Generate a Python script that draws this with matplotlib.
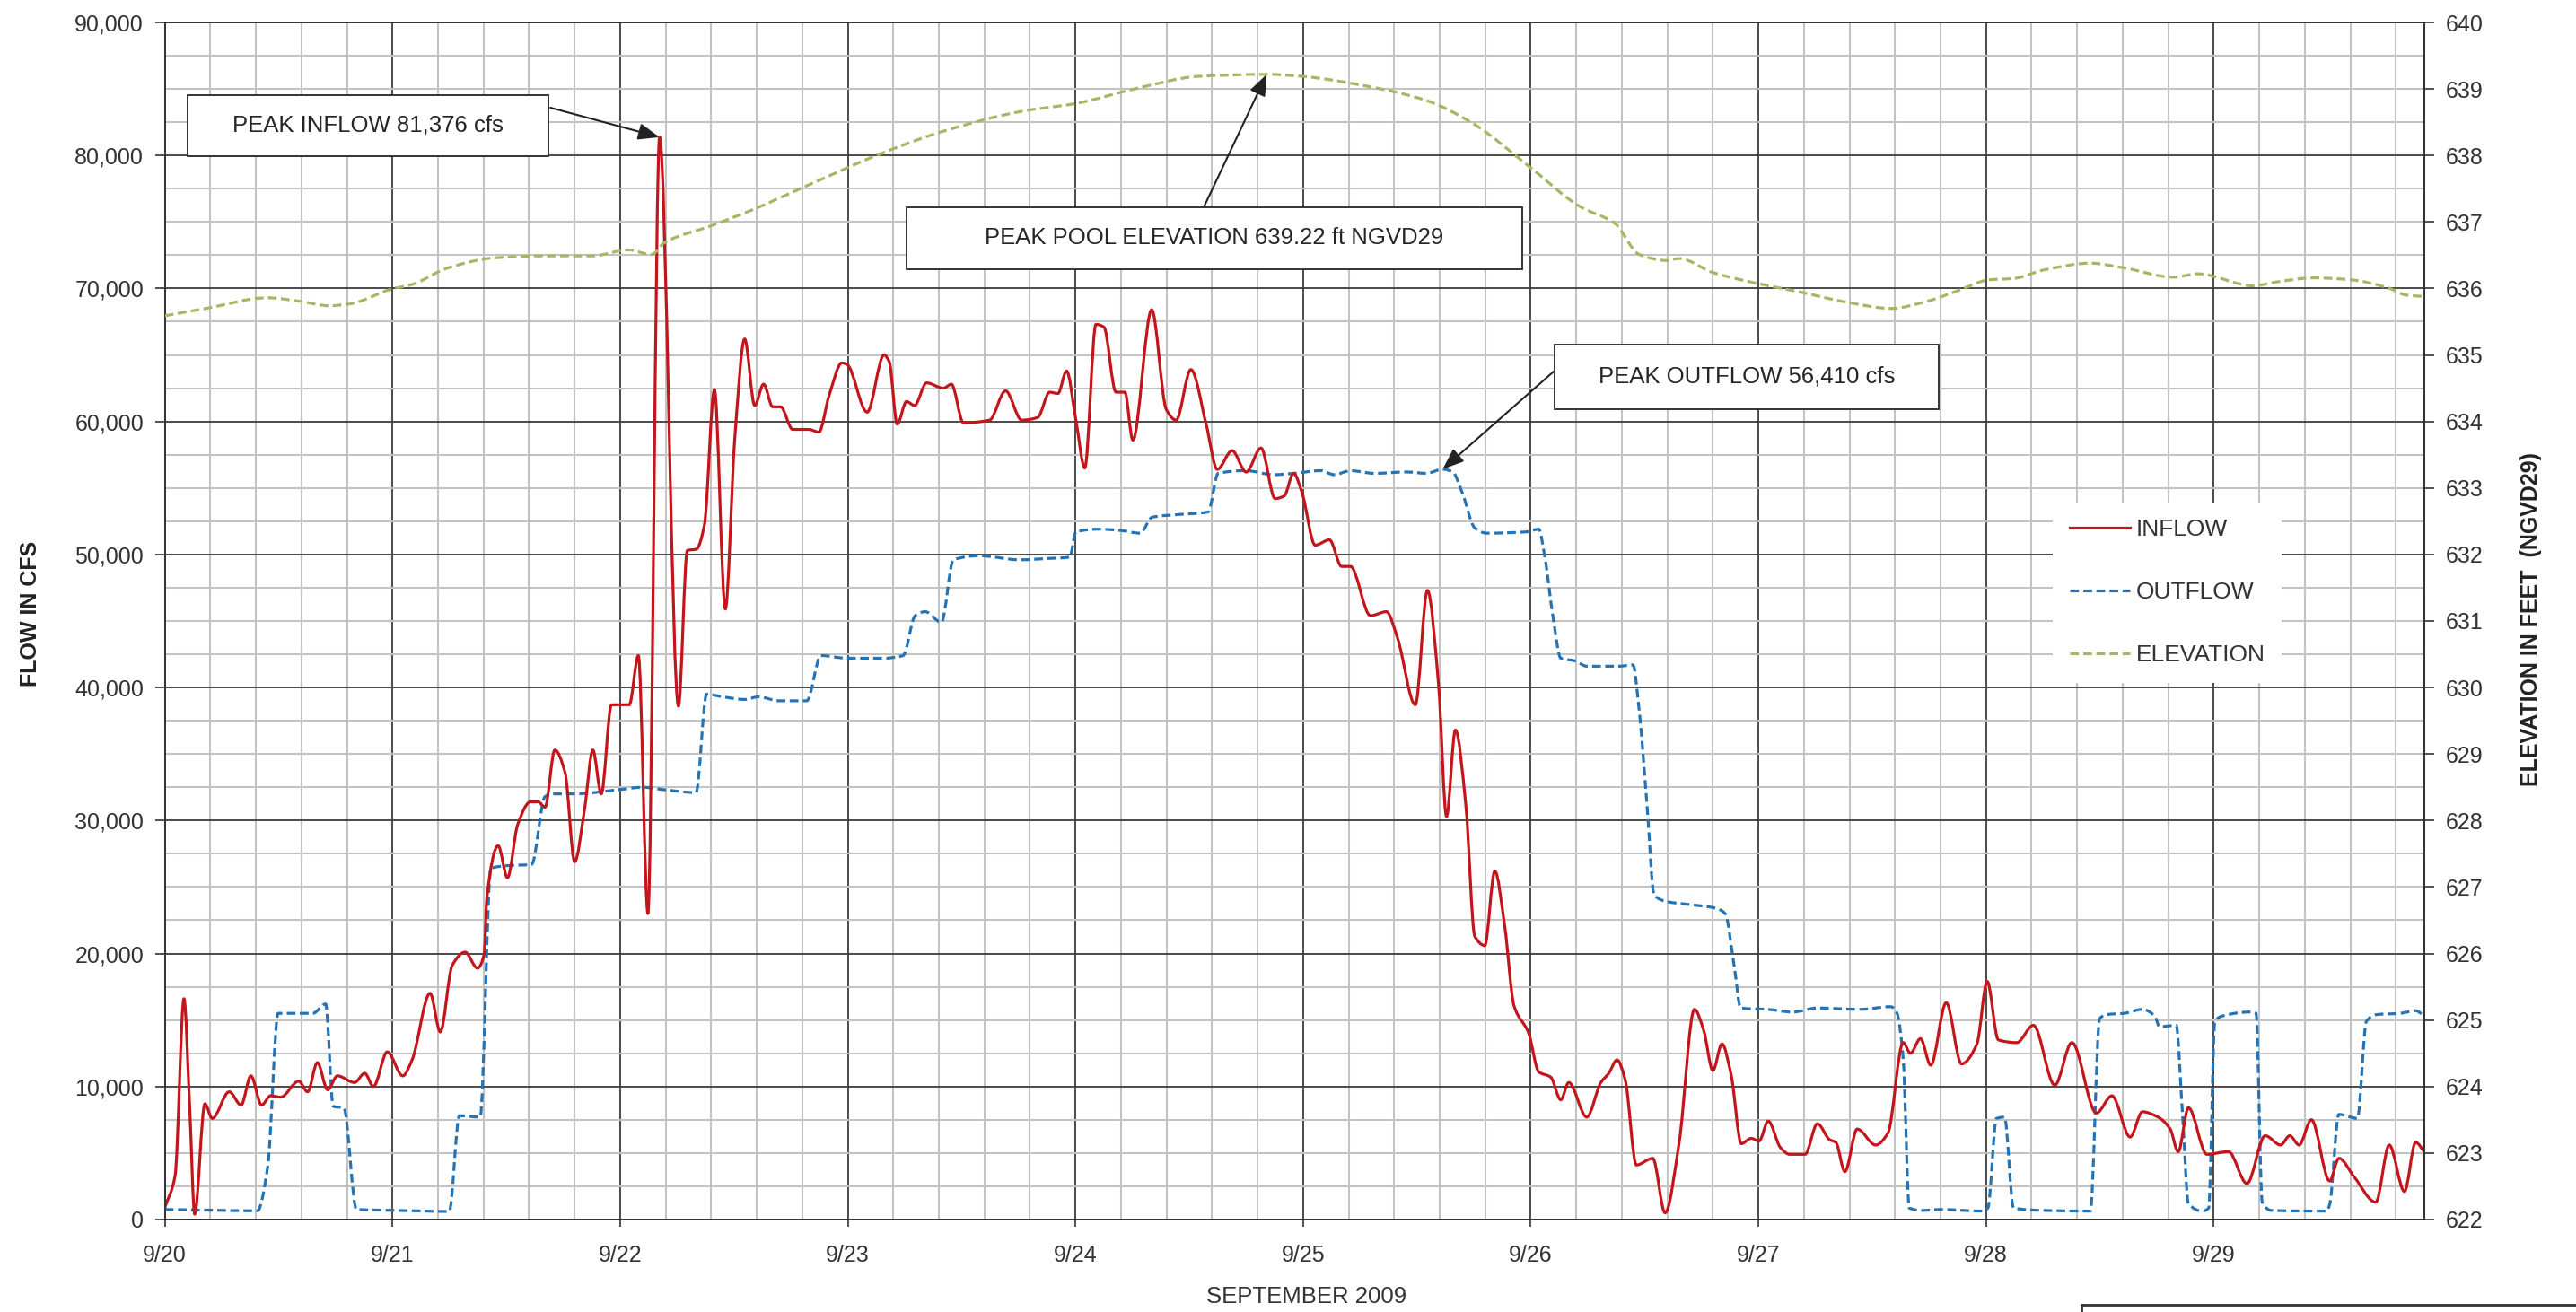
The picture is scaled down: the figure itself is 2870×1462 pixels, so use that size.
import numpy as np
import matplotlib
matplotlib.use("Agg")
import matplotlib.pyplot as plt
from matplotlib.path import Path
from matplotlib.patches import PathPatch, Rectangle
from matplotlib.lines import Line2D
from matplotlib.ticker import FixedLocator, MultipleLocator, FuncFormatter

plt.rcParams["font.family"] = ["Liberation Sans", "DejaVu Sans"]
plt.rcParams["lines.scale_dashes"] = False

# ---- data (time in days after 9/20 00:00) ----
day_labels = ["9/20", "9/21", "9/22", "9/23", "9/24", "9/25", "9/26", "9/27", "9/28", "9/29"]

inflow_day = [0.000, 0.045, 0.084, 0.109, 0.131, 0.176, 0.208, 0.283, 0.335, 0.378, 0.425, 0.464,
              0.509, 0.588, 0.627, 0.670, 0.715, 0.758, 0.833, 0.878, 0.916, 0.977, 1.045, 1.086,
              1.165, 1.210, 1.262, 1.319, 1.373, 1.403, 1.414, 1.464, 1.505, 1.550, 1.606, 1.640,
              1.670, 1.713, 1.758, 1.800, 1.844, 1.880, 1.917, 1.962, 2.040, 2.080, 2.122, 2.173,
              2.256, 2.295, 2.335, 2.370, 2.414, 2.462, 2.503, 2.547, 2.591, 2.630, 2.670, 2.705,
              2.758, 2.829, 2.873, 2.917, 2.974, 2.996, 3.085, 3.159, 3.182, 3.217, 3.258, 3.293,
              3.346, 3.420, 3.455, 3.508, 3.623, 3.693, 3.764, 3.834, 3.887, 3.923, 3.961, 4.002,
              4.041, 4.090, 4.125, 4.178, 4.217, 4.252, 4.335, 4.399, 4.442, 4.507, 4.574, 4.623,
              4.688, 4.750, 4.815, 4.877, 4.917, 4.958, 4.996, 5.053, 5.116, 5.169, 5.208, 5.296,
              5.366, 5.415, 5.493, 5.546, 5.595, 5.630, 5.669, 5.715, 5.754, 5.798, 5.842, 5.886,
              5.926, 5.991, 6.035, 6.088, 6.132, 6.167, 6.246, 6.308, 6.343, 6.379, 6.415, 6.464,
              6.536, 6.590, 6.652, 6.719, 6.760, 6.800, 6.840, 6.881, 6.925, 6.968, 7.003, 7.043,
              7.097, 7.137, 7.205, 7.259, 7.313, 7.340, 7.380, 7.434, 7.515, 7.569, 7.636, 7.668,
              7.712, 7.757, 7.825, 7.892, 7.960, 8.005, 8.054, 8.135, 8.208, 8.302, 8.377, 8.485,
              8.553, 8.633, 8.687, 8.755, 8.809, 8.844, 8.889, 8.970, 9.065, 9.146, 9.226, 9.294,
              9.334, 9.375, 9.429, 9.509, 9.550, 9.617, 9.712, 9.771, 9.838, 9.887, 9.925]
inflow_cfs = [900, 3300, 16600, 8500, 400, 8700, 7600, 9600, 8600, 10800, 8600, 9300,
              9200, 10400, 9600, 11800, 9750, 10800, 10300, 11000, 10000, 12600, 10800, 12000,
              17000, 14100, 19100, 20100, 18900, 20000, 24100, 28100, 25700, 29700, 31400, 31400,
              31000, 35300, 33600, 26900, 30900, 35300, 32000, 38700, 38700, 42400, 23000, 81376,
              38600, 50300, 50400, 52200, 62400, 45900, 58600, 66200, 61200, 62800, 61100, 61100,
              59400, 59400, 59200, 61900, 64400, 64300, 60700, 65000, 64500, 59800, 61500, 61200,
              62900, 62500, 62800, 59900, 60100, 62300, 60100, 60300, 62200, 62100, 63800, 60100,
              56500, 67300, 67100, 62200, 62200, 58600, 68400, 60900, 60100, 63900, 59800, 56400,
              57800, 56200, 58000, 54200, 54400, 56100, 54600, 50700, 51100, 49100, 49100, 45400,
              45700, 43700, 38700, 47300, 40200, 30300, 36800, 31100, 21300, 20600, 26200, 22000,
              16100, 14000, 11100, 10700, 9000, 10300, 7700, 10300, 11000, 12000, 10500, 4100,
              4600, 500, 5800, 15800, 14200, 11200, 13200, 10800, 5700, 6100, 5900, 7400,
              5400, 4900, 4900, 7200, 6000, 5800, 3600, 6800, 5600, 6500, 13300, 12500,
              13600, 11600, 16300, 11700, 13200, 17900, 13500, 13300, 14600, 10100, 13300, 8000,
              9300, 6200, 8100, 7700, 6800, 5100, 8400, 4900, 5100, 2700, 6300, 5600,
              6300, 5600, 7500, 2900, 4600, 3200, 1300, 5600, 2100, 5800, 5100]

outflow_day = [0.000, 0.200, 0.407, 0.452, 0.498, 0.560, 0.650, 0.706, 0.740, 0.786, 0.842, 0.950,
               1.100, 1.249, 1.294, 1.385, 1.432, 1.500, 1.611, 1.670, 1.700, 1.800, 1.986, 2.100,
               2.200, 2.333, 2.380, 2.450, 2.547, 2.608, 2.697, 2.820, 2.882, 2.996, 3.155, 3.243,
               3.296, 3.340, 3.411, 3.464, 3.578, 3.755, 3.880, 3.975, 4.002, 4.107, 4.200, 4.284,
               4.337, 4.450, 4.583, 4.627, 4.750, 4.870, 4.961, 5.076, 5.137, 5.208, 5.313, 5.454,
               5.542, 5.613, 5.657, 5.700, 5.754, 5.806, 5.982, 6.035, 6.062, 6.097, 6.132, 6.194,
               6.246, 6.387, 6.449, 6.475, 6.511, 6.542, 6.599, 6.687, 6.814, 6.854, 6.895, 6.922,
               7.039, 7.151, 7.259, 7.447, 7.582, 7.609, 7.636, 7.663, 7.717, 7.798, 7.987, 8.008,
               8.046, 8.081, 8.121, 8.256, 8.458, 8.499, 8.526, 8.606, 8.687, 8.741, 8.762, 8.835,
               8.863, 8.889, 8.951, 8.978, 9.005, 9.038, 9.159, 9.186, 9.213, 9.253, 9.496, 9.509,
               9.550, 9.631, 9.671, 9.712, 9.819, 9.887, 9.925]
outflow_cfs = [750, 700, 650, 4000, 15500, 15500, 15500, 16200, 8500, 8400, 750, 700,
               650, 600, 7800, 7700, 26400, 26600, 26700, 31800, 32000, 32000, 32300, 32500,
               32300, 32100, 39500, 39300, 39100, 39300, 39000, 39000, 42400, 42200, 42200, 42400,
               45400, 45700, 44900, 49600, 49900, 49600, 49700, 49800, 51700, 51900, 51800, 51600,
               52800, 53000, 53200, 56100, 56300, 56000, 56100, 56300, 56000, 56300, 56100, 56200,
               56100, 56410, 56200, 54600, 52000, 51600, 51700, 51900, 49800, 45400, 42200, 42000,
               41600, 41600, 41700, 38500, 31100, 24400, 23900, 23700, 23400, 23000, 18900, 15900,
               15800, 15600, 15900, 15800, 16000, 15500, 12100, 860, 680, 750, 630, 860,
               7600, 7700, 860, 680, 630, 15100, 15400, 15500, 15800, 15300, 14500, 14600,
               7900, 1200, 630, 860, 14900, 15300, 15600, 15500, 1300, 680, 630, 1100,
               7900, 7600, 14900, 15400, 15500, 15700, 15300]

elev_day = [0.000, 0.181, 0.452, 0.588, 0.724, 0.814, 0.995, 1.086, 1.244, 1.448, 1.674, 1.878,
            2.036, 2.138, 2.195, 2.398, 2.579, 2.824, 3.140, 3.434, 3.774, 4.000, 4.271, 4.543,
            4.840, 4.995, 5.267, 5.538, 5.742, 5.991, 6.217, 6.369, 6.477, 6.598, 6.652, 6.800,
            6.989, 7.178, 7.394, 7.582, 7.744, 7.879, 8.013, 8.121, 8.256, 8.458, 8.606, 8.822,
            8.930, 9.173, 9.280, 9.442, 9.604, 9.765, 9.846, 9.925]
elev_ft = [635.59, 635.70, 635.86, 635.81, 635.74, 635.77, 635.99, 636.06, 636.31, 636.46, 636.49, 636.49,
           636.58, 636.51, 636.69, 636.94, 637.18, 637.55, 638.02, 638.38, 638.67, 638.78, 639.01, 639.19,
           639.22, 639.19, 639.05, 638.83, 638.49, 637.84, 637.23, 636.98, 636.51, 636.42, 636.45, 636.24,
           636.08, 635.95, 635.79, 635.70, 635.81, 635.97, 636.13, 636.15, 636.28, 636.38, 636.31, 636.17,
           636.22, 636.04, 636.10, 636.16, 636.13, 636.01, 635.90, 635.88]

INFLOW_COLOR = "#c2161c"
OUTFLOW_COLOR = "#2373b5"
ELEV_COLOR = "#a2b964"
DASH = (0, (7, 3.5))
TEXT = "#333333"


def smooth_path(x, y):
    """Piecewise cubic Bezier through the points (shape-preserving tangents)."""
    x = np.asarray(x, float)
    y = np.asarray(y, float)
    h = np.diff(x)
    s = np.diff(y) / h
    m = np.zeros_like(y)
    m[0], m[-1] = s[0], s[-1]
    for i in range(1, len(y) - 1):
        if s[i - 1] * s[i] <= 0:
            m[i] = 0.0
        else:
            w1 = 2 * h[i] + h[i - 1]
            w2 = h[i] + 2 * h[i - 1]
            m[i] = (w1 + w2) / (w1 / s[i - 1] + w2 / s[i])
    verts = [(x[0], y[0])]
    codes = [Path.MOVETO]
    for i in range(len(y) - 1):
        verts += [(x[i] + h[i] / 3, y[i] + m[i] * h[i] / 3),
                  (x[i + 1] - h[i] / 3, y[i + 1] - m[i + 1] * h[i] / 3),
                  (x[i + 1], y[i + 1])]
        codes += [Path.CURVE4] * 3
    return Path(verts, codes)


fig = plt.figure(figsize=(28.7, 14.62), dpi=100)
ax = fig.add_axes([0.0640, 0.0705, 0.8771, 0.9124])
ax2 = ax.twinx()

ax.set_xlim(0, 9.925)
ax.set_ylim(0, 90000)
ax2.set_ylim(622, 640)

# grid
ax.set_axisbelow(True)
ax.xaxis.set_major_locator(FixedLocator(range(len(day_labels))))
ax.set_xticklabels(day_labels)
ax.xaxis.set_minor_locator(MultipleLocator(0.2))
ax.yaxis.set_major_locator(MultipleLocator(10000))
ax.yaxis.set_minor_locator(MultipleLocator(2500))
ax.yaxis.set_major_formatter(FuncFormatter(lambda v, p: f"{v:,.0f}"))
ax.grid(which="minor", color="#c3c3c3", lw=1.5)
ax.grid(which="major", color="#3c3c3c", lw=1.3)
ax2.yaxis.set_major_locator(MultipleLocator(1))
ax2.yaxis.set_major_formatter(FuncFormatter(lambda v, p: f"{v:.0f}"))

for a in (ax, ax2):
    for sp in a.spines.values():
        sp.set_color("#333333")
        sp.set_linewidth(1.3)
ax.tick_params(axis="y", which="major", direction="out", length=8, width=1.2,
               color="#333333", labelsize=18, labelcolor=TEXT, pad=9)
ax.tick_params(axis="x", which="major", direction="out", length=6, width=1.2,
               color="#333333", labelsize=18, labelcolor=TEXT, pad=14)
ax.tick_params(which="minor", length=0)
ax2.tick_params(axis="y", which="major", direction="out", length=8, width=1.2,
                color="#333333", labelsize=18, labelcolor=TEXT, pad=9)

# series
ax.add_patch(PathPatch(smooth_path(outflow_day, outflow_cfs), facecolor="none",
                       edgecolor=OUTFLOW_COLOR, lw=2.3, linestyle=DASH, zorder=3))
ax.add_patch(PathPatch(smooth_path(inflow_day, inflow_cfs), facecolor="none",
                       edgecolor=INFLOW_COLOR, lw=2.3, zorder=4, joinstyle="round"))
ax2.add_patch(PathPatch(smooth_path(elev_day, elev_ft), facecolor="none",
                        edgecolor=ELEV_COLOR, lw=2.3, linestyle=DASH, zorder=3))

# legend
handles = [Line2D([], [], color=INFLOW_COLOR, lw=2.3),
           Line2D([], [], color=OUTFLOW_COLOR, lw=2.3, linestyle=DASH),
           Line2D([], [], color=ELEV_COLOR, lw=2.3, linestyle=DASH)]
leg = ax2.legend(handles, ["INFLOW", "OUTFLOW", "ELEVATION"], loc="upper left",
                 bbox_to_anchor=(0.8356, 0.599), borderaxespad=0, fontsize=19,
                 frameon=True, fancybox=False, framealpha=1, facecolor="white",
                 edgecolor="none", borderpad=0.7, handlelength=2.55,
                 handletextpad=0.25, labelspacing=1.74)
for t in leg.get_texts():
    t.set_color(TEXT)
leg.set_zorder(6)

# annotations
i_in = int(np.argmax(inflow_cfs))
i_out = int(np.argmax(outflow_cfs))
i_el = int(np.argmax(elev_ft))
arrow = dict(arrowstyle="-|>,head_length=0.9,head_width=0.35", color="#222222",
             lw=1.5, shrinkA=0, shrinkB=0, mutation_scale=16)


def note_box(x0, y0, x1, y1, text):
    ax2.add_patch(Rectangle((x0, y0), x1 - x0, y1 - y0, transform=ax2.transAxes,
                            facecolor="white", edgecolor="#333333", lw=1.4, zorder=7))
    ax2.text((x0 + x1) / 2, (y0 + y1) / 2, text, transform=ax2.transAxes, ha="center",
             va="center", fontsize=18.5, color="#262626", zorder=8)


ax2.annotate("", xy=(inflow_day[i_in], inflow_cfs[i_in]), xycoords=ax.transData,
             xytext=(0.1706, 0.9288), textcoords=ax2.transAxes, arrowprops=arrow, zorder=6)
note_box(0.0101, 0.8883, 0.1697, 0.9393, f"PEAK INFLOW {inflow_cfs[i_in]:,} cfs")

ax2.annotate("", xy=(elev_day[i_el], elev_ft[i_el]), xycoords=ax2.transData,
             xytext=(0.4598, 0.8456), textcoords=ax2.transAxes, arrowprops=arrow, zorder=6)
note_box(0.3283, 0.7939, 0.6008, 0.8456, f"PEAK POOL ELEVATION {elev_ft[i_el]:.2f} ft NGVD29")

ax2.annotate("", xy=(outflow_day[i_out], outflow_cfs[i_out]), xycoords=ax.transData,
             xytext=(0.6151, 0.7091), textcoords=ax2.transAxes, arrowprops=arrow, zorder=6)
note_box(0.6151, 0.6769, 0.7851, 0.7309, f"PEAK OUTFLOW {outflow_cfs[i_out]:,} cfs")

# axis titles
fig.text(34 / 2870, 1 - 684 / 1462, "FLOW IN CFS", rotation=90, ha="center", va="center",
         fontsize=18, fontweight="bold", color="#222222")
fig.text(2820 / 2870, 1 - 690 / 1462, "ELEVATION IN FEET  (NGVD29)", rotation=90,
         ha="center", va="center", fontsize=18, fontweight="bold", color="#222222")
fig.text(1456 / 2870, 1 - 1445 / 1462, "SEPTEMBER 2009", ha="center", va="center",
         fontsize=18.5, color=TEXT)

# frame of the caption block below the chart
fig.add_artist(Line2D([2319 / 2870, 1.0], [1 - 1454 / 1462, 1 - 1454 / 1462],
                      transform=fig.transFigure, color="#333333", lw=2))
fig.add_artist(Line2D([2319 / 2870, 2319 / 2870], [1 - 1454 / 1462, 0.0],
                      transform=fig.transFigure, color="#333333", lw=2))

fig.savefig("out.png", dpi=100, facecolor="white")
